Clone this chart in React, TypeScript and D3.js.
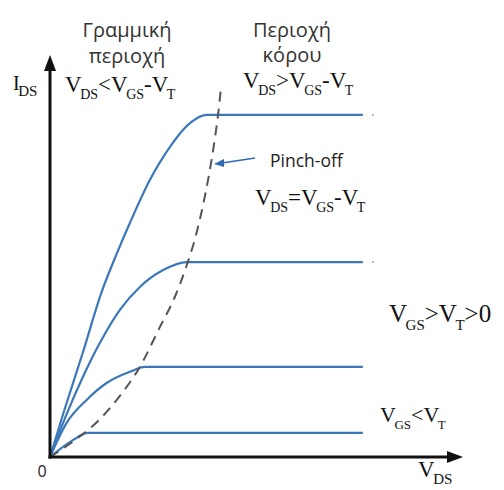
import React from "react";
import * as d3 from "d3";

// Output characteristics of an n-MOSFET, in arbitrary units (V_DS, I_DS)
const curveHigh: [number, number][] = [
  [0, 0], [0.31, 1.05], [0.79, 2.6], [1.24, 4.1], [1.63, 5.12], [1.92, 5.82],
  [2.4, 6.89], [2.88, 7.71], [3.37, 8.31], [3.77, 8.51], [3.92, 8.51], [7.52, 8.51],
];
const curveMid: [number, number][] = [
  [0, 0], [0.41, 1.09], [0.79, 1.99], [1.2, 2.84], [1.68, 3.66], [2.16, 4.23],
  [2.72, 4.65], [3.29, 4.85], [7.52, 4.85],
];
const curveLow: [number, number][] = [
  [0, 0], [0.4, 0.85], [0.88, 1.42], [1.36, 1.84], [1.92, 2.12], [2.28, 2.24], [7.52, 2.24],
];
const curveOff: [number, number][] = [
  [0, 0], [0.55, 0.42], [0.91, 0.6], [7.52, 0.6],
];
// Pinch-off locus V_DS = V_GS - V_T
const pinchOff: [number, number][] = [
  [0, 0], [0.6, 0.42], [1.13, 0.87], [1.68, 1.52], [2.16, 2.24], [2.64, 3.23],
  [3.0, 3.98], [3.29, 4.78], [3.51, 5.52], [3.68, 6.27], [3.82, 7.01],
  [3.94, 7.76], [4.04, 8.51], [4.11, 9.18],
];
const endDots: [number, number][] = [[7.76, 8.51], [7.76, 4.85]];

type Part = { t: string; sub?: boolean };
const eqLinear: Part[] = [{ t: "V" }, { t: "DS", sub: true }, { t: "<V" }, { t: "GS", sub: true }, { t: "-V" }, { t: "T", sub: true }];
const eqSat: Part[] = [{ t: "V" }, { t: "DS", sub: true }, { t: ">V" }, { t: "GS", sub: true }, { t: "-V" }, { t: "T", sub: true }];
const eqPinch: Part[] = [{ t: "V" }, { t: "DS", sub: true }, { t: "=V" }, { t: "GS", sub: true }, { t: "-V" }, { t: "T", sub: true }];
const eqOn: Part[] = [{ t: "V" }, { t: "GS", sub: true }, { t: ">V" }, { t: "T", sub: true }, { t: ">0" }];
const eqOff: Part[] = [{ t: "V" }, { t: "GS", sub: true }, { t: "<V" }, { t: "T", sub: true }];
const labelX: Part[] = [{ t: "V" }, { t: "DS", sub: true }];
const labelY: Part[] = [{ t: "I" }, { t: "DS", sub: true }];

const W = 504;
const H = 490;
const x = d3.scaleLinear().domain([0, 10]).range([50, 466]);
const y = d3.scaleLinear().domain([0, 10]).range([457, 55]);

const line = d3
  .line<[number, number]>()
  .x((d) => x(d[0]))
  .y((d) => y(d[1]))
  .curve(d3.curveMonotoneX);

const SERIF = "'Liberation Serif', 'DejaVu Serif', serif";
const SANS = "'Open Sans', 'Noto Sans', sans-serif";

function Formula({ parts, px, py, size, subSize, anchor = "start" }: {
  parts: Part[]; px: number; py: number; size: number; subSize: number; anchor?: string;
}) {
  const shift = size * 0.3;
  let prevSub = false;
  return (
    <text x={px} y={py} fontFamily={SERIF} fontSize={size} fill="#111" textAnchor={anchor}>
      {parts.map((p, i) => {
        let dy = 0;
        if (p.sub && !prevSub) dy = shift;
        if (!p.sub && prevSub) dy = -shift;
        prevSub = !!p.sub;
        return (
          <tspan key={i} dy={dy} fontSize={p.sub ? subSize : size} dx={p.sub ? -1.5 : 0}>
            {p.t}
          </tspan>
        );
      })}
    </text>
  );
}

export default function App() {
  const x0 = x(0);
  const y0 = y(0);
  const yTop = y(10);
  const xEnd = x(10) - 3;
  const arrowY = `M${x0 - 6},${yTop + 16} L${x0},${yTop} L${x0 + 6},${yTop + 16} Z`;
  const arrowX = `M${xEnd - 16},${y0 - 6} L${xEnd},${y0} L${xEnd - 16},${y0 + 6} Z`;

  const blue = "#3b78ba";
  const curves = [curveHigh, curveMid, curveLow, curveOff];

  return (
    <svg
      width={W}
      height={H}
      viewBox={`0 0 ${W} ${H}`}
      style={{ position: "absolute", left: 0, top: 0, background: "#fff" }}
    >
      {/* region headers */}
      <g fontFamily={SANS} fontSize={20} fill="#333" textAnchor="middle">
        <text x={127} y={37}>Γραμμική</text>
        <text x={127} y={63}>περιοχή</text>
        <text x={292} y={37}>Περιοχή</text>
        <text x={292} y={62}>κόρου</text>
      </g>
      <Formula parts={eqLinear} px={65} py={92} size={23} subSize={14} />
      <Formula parts={eqSat} px={243} py={88} size={23} subSize={14} />

      {/* drain-current curves */}
      {curves.map((c, i) => (
        <path key={i} d={line(c) ?? ""} fill="none" stroke={blue} strokeWidth={2.2} />
      ))}
      {endDots.map((d, i) => (
        <circle key={i} cx={x(d[0])} cy={y(d[1])} r={1} fill="#9aa" />
      ))}

      {/* pinch-off boundary */}
      <path
        d={line(pinchOff) ?? ""}
        fill="none"
        stroke="#555"
        strokeWidth={2}
        strokeDasharray="10,7"
      />

      {/* pinch-off annotation */}
      <line x1={255} y1={158} x2={222} y2={163} stroke="#2f6ab3" strokeWidth={1.6} />
      <path d="M214,164 L224,159 L224,167 Z" fill="#2f6ab3" />
      <text x={270} y={167} fontFamily={SANS} fontSize={17.5} fill="#222">Pinch-off</text>
      <Formula parts={eqPinch} px={255} py={205} size={23} subSize={14} />

      <Formula parts={eqOn} px={389} py={322} size={25} subSize={15} />
      <Formula parts={eqOff} px={380} py={422} size={22} subSize={13} />

      {/* axes */}
      <line x1={x0} y1={y0 + 1.5} x2={x0} y2={yTop + 10} stroke="#111" strokeWidth={3} />
      <path d={arrowY} fill="#111" />
      <line x1={x0 - 1.5} y1={y0} x2={xEnd - 10} y2={y0} stroke="#111" strokeWidth={3} />
      <path d={arrowX} fill="#111" />

      <Formula parts={labelY} px={13} py={90} size={20} subSize={15} />
      <Formula parts={labelX} px={418} py={477} size={23} subSize={15} />
      <text x={42} y={477} fontFamily={SANS} fontSize={16} fill="#222" textAnchor="middle">0</text>
    </svg>
  );
}
